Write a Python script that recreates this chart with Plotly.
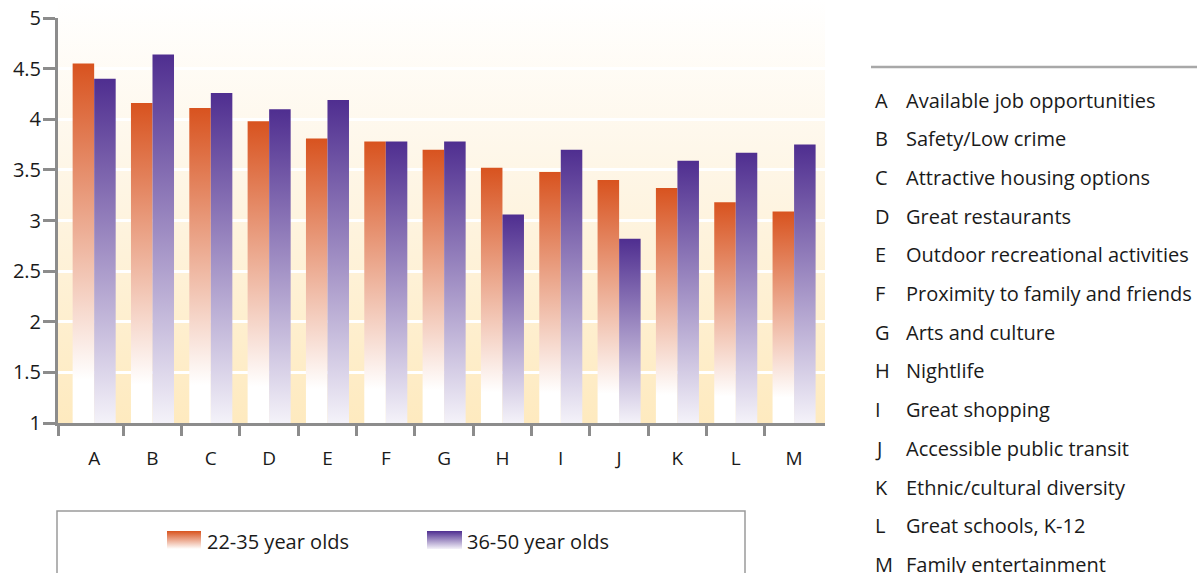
import base64
import plotly.graph_objects as go

# Survey scores (1-5 scale) by community attribute and age group
letters = ["A", "B", "C", "D", "E", "F", "G", "H", "I", "J", "K", "L", "M"]
attributes = [
    "Available job opportunities",
    "Safety/Low crime",
    "Attractive housing options",
    "Great restaurants",
    "Outdoor recreational activities",
    "Proximity to family and friends",
    "Arts and culture",
    "Nightlife",
    "Great shopping",
    "Accessible public transit",
    "Ethnic/cultural diversity",
    "Great schools, K-12",
    "Family entertainment",
]
age_22_35 = [4.55, 4.16, 4.11, 3.98, 3.81, 3.78, 3.70, 3.52, 3.48, 3.40, 3.32, 3.18, 3.09]
age_36_50 = [4.40, 4.64, 4.26, 4.10, 4.19, 3.78, 3.78, 3.06, 3.70, 2.82, 3.59, 3.67, 3.75]
series_names = ["22-35 year olds", "36-50 year olds"]
y_ticks = [1, 1.5, 2, 2.5, 3, 3.5, 4, 4.5, 5]
y_ticktext = ["1", "1.5", "2", "2.5", "3", "3.5", "4", "4.5", "5"]

W, H = 1197, 573
L, R, T, B = 58, 372, 18, 150
PW, PH = W - L - R, H - T - B
FONT = "Open Sans"
TEXT_COLOR = "#1a1a1a"
BASE = 1.0
BAR_W = 0.369

ORANGE_SCALE = [[0, "#FFFFFF"], [0.12, "#FFFFFF"], [1, "#D8531F"]]
PURPLE_SCALE = [[0, "#F4F2F9"], [1, "#4F2E90"]]


def xp(px):
    return (px - L) / PW


def yp(py):
    return (T + PH - py) / PH


def svg_gradient(stops):
    body = "".join(
        f'<stop offset="{o}" stop-color="{c}"/>' for o, c in stops
    )
    svg = (
        '<svg xmlns="http://www.w3.org/2000/svg" width="10" height="100" '
        'preserveAspectRatio="none" viewBox="0 0 10 100">'
        f'<defs><linearGradient id="g" x1="0" y1="0" x2="0" y2="1">{body}'
        '</linearGradient></defs><rect width="10" height="100" fill="url(#g)"/></svg>'
    )
    return "data:image/svg+xml;base64," + base64.b64encode(svg.encode()).decode()


fig = go.Figure()

# Gradient bars, drawn as filled polygons on a numeric category axis
for values, scale, side in ((age_22_35, ORANGE_SCALE, -1), (age_36_50, PURPLE_SCALE, 1)):
    for i, v in enumerate(values):
        x0, x1 = (i - BAR_W, i) if side < 0 else (i, i + BAR_W)
        fig.add_trace(go.Scatter(
            x=[x0, x0, x1, x1, x0],
            y=[BASE, v, v, BASE, BASE],
            mode="lines",
            line=dict(width=0),
            fill="toself",
            fillgradient=dict(type="vertical", colorscale=scale, start=BASE, stop=v),
            hoverinfo="skip",
            showlegend=False,
        ))

images = [
    # plot background: white at the top fading to cream at the baseline
    dict(source=svg_gradient([(0, "#FFFFFF"), (0.35, "#FEF7EA"), (1, "#FEEABF")]),
         xref="paper", yref="paper", x=0, y=yp(0), sizex=1, sizey=yp(0) - yp(T + PH),
         sizing="stretch", layer="below", xanchor="left", yanchor="top"),
    # legend swatches
    dict(source=svg_gradient([(0, "#D8531F"), (1, "#FFFFFF")]),
         xref="paper", yref="paper", x=xp(167), y=yp(531), sizex=xp(201) - xp(167),
         sizey=yp(531) - yp(549), sizing="stretch", layer="above",
         xanchor="left", yanchor="top"),
    dict(source=svg_gradient([(0, "#4F2E90"), (1, "#F4F2F9")]),
         xref="paper", yref="paper", x=xp(427), y=yp(531), sizex=xp(462) - xp(427),
         sizey=yp(531) - yp(549), sizing="stretch", layer="above",
         xanchor="left", yanchor="top"),
]

shapes = [
    dict(type="rect", xref="paper", yref="paper", x0=xp(57), x1=xp(745),
         y0=yp(511), y1=yp(600), line=dict(color="#9a9a9a", width=1.5),
         fillcolor="rgba(0,0,0,0)"),
    dict(type="line", xref="paper", yref="paper", x0=xp(871), x1=xp(1200),
         y0=yp(67), y1=yp(67), line=dict(color="#a8a8a8", width=2.5)),
]

annotations = [
    dict(text=series_names[0], xref="paper", yref="paper", x=xp(205), y=yp(541),
         xanchor="left", yanchor="middle", showarrow=False,
         font=dict(family=FONT, size=20, color=TEXT_COLOR)),
    dict(text=series_names[1], xref="paper", yref="paper", x=xp(465), y=yp(541),
         xanchor="left", yanchor="middle", showarrow=False,
         font=dict(family=FONT, size=20, color=TEXT_COLOR)),
]
row0, step = 100, 38.7
for k, (letter, name) in enumerate(zip(letters, attributes)):
    yy = yp(row0 + k * step)
    annotations.append(dict(text=letter, xref="paper", yref="paper", x=xp(873), y=yy,
                            xanchor="left", yanchor="middle", showarrow=False,
                            font=dict(family=FONT, size=20, color=TEXT_COLOR)))
    annotations.append(dict(text=name, xref="paper", yref="paper", x=xp(904), y=yy,
                            xanchor="left", yanchor="middle", showarrow=False,
                            font=dict(family=FONT, size=20, color=TEXT_COLOR)))

fig.update_layout(
    width=W, height=H,
    margin=dict(l=L, r=R, t=T, b=B, pad=0),
    paper_bgcolor="white",
    plot_bgcolor="rgba(0,0,0,0)",
    showlegend=False,
    images=images,
    shapes=shapes,
    annotations=annotations,
    xaxis=dict(
        range=[-0.62, 12.53],
        automargin=False,
        tickvals=list(range(len(letters))),
        ticktext=letters,
        ticks="outside", ticklen=16, tickcolor="rgba(0,0,0,0)",
        minor=dict(tickvals=[-0.62] + [i + 0.5 for i in range(len(letters) - 1)],
                   ticks="outside", ticklen=10, tickwidth=3, tickcolor="#8c8c8c",
                   showgrid=False),
        showgrid=False, zeroline=False,
        showline=True, linecolor="#8c8c8c", linewidth=3,
        tickfont=dict(family=FONT, size=19, color=TEXT_COLOR),
    ),
    yaxis=dict(
        range=[1, 5],
        automargin=False,
        tickvals=y_ticks, ticktext=y_ticktext,
        ticks="outside", ticklen=12, tickwidth=3, tickcolor="#8c8c8c",
        showgrid=True, gridcolor="white", gridwidth=3,
        zeroline=False,
        showline=True, linecolor="#8c8c8c", linewidth=3,
        tickfont=dict(family=FONT, size=20, color=TEXT_COLOR),
        ticklabelstandoff=-2,
    ),
)

fig.write_html("out.html")
